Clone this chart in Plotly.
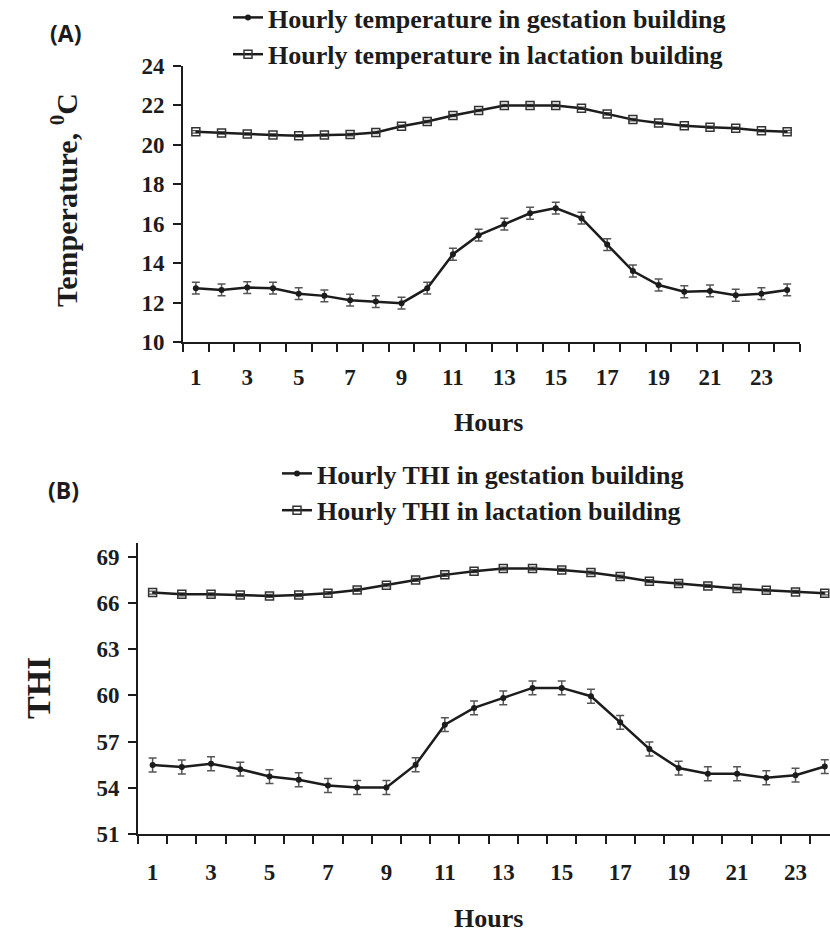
import plotly.graph_objects as go

hours = list(range(1, 25))
xtick_vals = list(range(1, 24, 2))
xtick_text = [str(v) for v in xtick_vals]

# Panel A: temperature (°C)
temp_gestation = [12.73, 12.64, 12.76, 12.73, 12.45, 12.34, 12.12, 12.05, 11.97, 12.73, 14.45, 15.42,
                  15.98, 16.53, 16.79, 16.28, 14.94, 13.60, 12.89, 12.55, 12.59, 12.37, 12.45, 12.64]
temp_gestation_err = [0.3] * 24
temp_lactation = [20.66, 20.60, 20.55, 20.50, 20.46, 20.50, 20.52, 20.63, 20.94, 21.18, 21.49, 21.74,
                  22.00, 22.00, 22.00, 21.86, 21.57, 21.28, 21.11, 20.97, 20.89, 20.84, 20.72, 20.67]
temp_lactation_err = [0.06] * 24

# Panel B: THI
thi_gestation = [55.48, 55.35, 55.56, 55.21, 54.73, 54.52, 54.15, 54.02, 54.02, 55.50, 58.10, 59.19,
                 59.84, 60.49, 60.49, 59.95, 58.25, 56.52, 55.28, 54.91, 54.91, 54.65, 54.82, 55.38]
thi_gestation_err = [0.45] * 24
thi_lactation = [66.68, 66.57, 66.57, 66.52, 66.46, 66.52, 66.64, 66.85, 67.16, 67.50, 67.83, 68.07,
                 68.24, 68.24, 68.15, 67.98, 67.72, 67.42, 67.27, 67.11, 66.94, 66.83, 66.72, 66.63]
thi_lactation_err = [0.1] * 24

W, H = 830, 937
SERIF = "Liberation Serif, Times New Roman, serif"
INK = "#1c1c1c"

def px_x(v):
    return v / W

def px_y(v):
    return 1 - v / H

fig = go.Figure()

def add_pair(xaxis, yaxis, gest, gerr, lact, lerr, gname, lname, legend):
    fig.add_trace(go.Scatter(
        x=hours, y=gest, name=gname, mode="lines+markers", xaxis=xaxis, yaxis=yaxis, legend=legend,
        line=dict(color=INK, width=2.5), cliponaxis=False,
        marker=dict(symbol="circle", size=6, color=INK),
        error_y=dict(type="data", array=gerr, visible=True, color="#555555", thickness=1.5, width=4),
    ))
    fig.add_trace(go.Scatter(
        x=hours, y=lact, name=lname, mode="lines+markers", xaxis=xaxis, yaxis=yaxis, legend=legend,
        line=dict(color=INK, width=2.5), cliponaxis=False,
        marker=dict(symbol="square-open", size=8, color="#333333", line=dict(width=1.5)),
        error_y=dict(type="data", array=lerr, visible=True, color="#555555", thickness=1.2, width=4),
    ))

add_pair("x", "y", temp_gestation, temp_gestation_err, temp_lactation, temp_lactation_err,
         "Hourly temperature in gestation building", "Hourly temperature in lactation building", "legend")
add_pair("x2", "y2", thi_gestation, thi_gestation_err, thi_lactation, thi_lactation_err,
         "Hourly THI in gestation building", "Hourly THI in lactation building", "legend2")

tickfont = dict(family=SERIF, size=23, color=INK, weight="bold")

def xaxis_cfg(domain, rng, minor_vals, label_gap):
    return dict(
        domain=domain, range=rng, showline=True, linecolor=INK, linewidth=2,
        showgrid=False, zeroline=False, tickmode="array", tickvals=xtick_vals, ticktext=xtick_text,
        ticks="outside", ticklen=label_gap, tickcolor="rgba(0,0,0,0)", tickfont=tickfont,
        minor=dict(tickmode="array", tickvals=minor_vals, ticks="outside", ticklen=8,
                   tickwidth=2, tickcolor=INK, showgrid=False),
    )

def yaxis_cfg(domain, rng, dtick, tick0, anchor):
    return dict(
        domain=domain, range=rng, showline=True, linecolor=INK, linewidth=2,
        showgrid=False, zeroline=False, tickmode="linear", tick0=tick0, dtick=dtick,
        ticks="outside", ticklen=8, tickwidth=2, tickcolor=INK, tickfont=tickfont,
        ticklabelstandoff=4, anchor=anchor,
    )

minor_a = [h - 0.5 for h in range(1, 26)]
minor_b = [h - 0.5 for h in range(1, 25)]

legfont = dict(family=SERIF, size=26, color=INK, weight="bold")

fig.update_layout(
    width=W, height=H, margin=dict(l=0, r=0, t=0, b=0, autoexpand=False),
    paper_bgcolor="white", plot_bgcolor="white",
    xaxis=xaxis_cfg([px_x(183), px_x(800)], [0.5, 24.5], minor_a, 13) | dict(anchor="y"),
    yaxis=yaxis_cfg([px_y(342), px_y(66)], [10, 24], 2, 10, "x"),
    xaxis2=xaxis_cfg([px_x(138), 1.0], [0.5, 24.18], minor_b, 16) | dict(anchor="y2"),
    yaxis2=yaxis_cfg([px_y(834), px_y(543)], [51, 69.9], 3, 51, "x2"),
    legend=dict(x=px_x(228), y=px_y(-6), xanchor="left", yanchor="top", bgcolor="rgba(0,0,0,0)",
                font=legfont, tracegroupgap=0, traceorder="normal"),
    legend2=dict(x=px_x(277), y=px_y(450), xanchor="left", yanchor="top", bgcolor="rgba(0,0,0,0)",
                 font=legfont, tracegroupgap=0, traceorder="normal"),
    showlegend=True,
)

annots = [
    dict(text="(A)", x=px_x(65), y=px_y(33), font=dict(family="Open Sans", size=23, color=INK, weight="bold")),
    dict(text="(B)", x=px_x(63), y=px_y(490), font=dict(family="Open Sans", size=23, color=INK, weight="bold")),
    dict(text="Hours", x=px_x(488), y=px_y(423), font=dict(family=SERIF, size=26, color=INK, weight="bold")),
    dict(text="Hours", x=px_x(488), y=px_y(918), font=dict(family=SERIF, size=26, color=INK, weight="bold")),
    dict(text="Temperature, <sup>0</sup>C", x=px_x(64), y=px_y(200), textangle=-90,
         font=dict(family=SERIF, size=30, color=INK, weight="bold")),
    dict(text="THI", x=px_x(38), y=px_y(688), textangle=-90,
         font=dict(family=SERIF, size=34, color=INK, weight="bold")),
]
for a in annots:
    a.update(xref="paper", yref="paper", showarrow=False, xanchor="center", yanchor="middle")
    fig.add_annotation(**a)

fig.write_html("out.html", config={"displayModeBar": False},
               post_script="document.body.style.margin='0';")
